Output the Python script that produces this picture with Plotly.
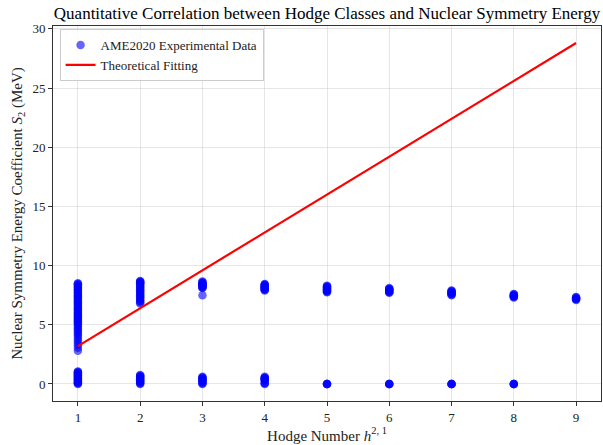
import plotly.graph_objects as go

# Experimental data: Hodge number -> S2 values (MeV)
h1_vals = [0.0, 0.05, 0.1, 0.15, 0.2, 0.3, 0.35, 0.4, 0.5, 0.55, 0.6, 0.7, 0.75, 0.8, 0.9, 0.95, 1.0, 1.05,
           2.8, 3.05, 3.3, 3.5, 3.7, 3.9, 4.1, 4.25, 4.4, 4.55, 4.7, 4.85, 5.0, 5.1, 5.2,
           5.3, 5.4, 5.5, 5.6, 5.7, 5.8, 5.9, 6.0, 6.1, 6.2, 6.3, 6.4, 6.5, 6.6, 6.7,
           6.8, 6.9, 7.0, 7.1, 7.2, 7.3, 7.4, 7.5, 7.6, 7.7, 7.8, 7.9, 8.0, 8.1, 8.2,
           8.3, 8.4, 8.45, 8.5]
h2_vals = [0.0, 0.05, 0.1, 0.2, 0.25, 0.3, 0.4, 0.45, 0.5, 0.6, 0.65, 0.7, 0.75,
           6.8, 6.9, 7.0, 7.1, 7.2, 7.3, 7.4, 7.5, 7.6, 7.7, 7.8, 7.9, 8.0, 8.1,
           8.2, 8.3, 8.4, 8.5, 8.55, 8.6, 8.65, 8.7]
h3_vals = [0.0, 0.05, 0.1, 0.2, 0.25, 0.3, 0.4, 0.45, 0.5, 0.55, 0.6,
           7.5, 8.1, 8.15, 8.2, 8.25, 8.3, 8.35, 8.4, 8.45, 8.5, 8.55, 8.6, 8.65]
h4_vals = [0.0, 0.05, 0.1, 0.3, 0.35, 0.4, 0.45, 0.5, 0.55, 0.6,
           7.9, 7.95, 8.0, 8.05, 8.1, 8.15, 8.2, 8.25, 8.3, 8.35, 8.4, 8.45]
h5_vals = [0.0, 0.0, 0.0, 0.0, 7.75, 7.8, 7.85, 7.9, 7.95, 8.0, 8.05, 8.1, 8.15, 8.2, 8.25, 8.3]
h6_vals = [0.0, 0.0, 0.0, 0.0, 7.7, 7.75, 7.8, 7.85, 7.9, 7.95, 8.0, 8.05, 8.1]
h7_vals = [0.0, 0.0, 0.0, 0.0, 7.5, 7.55, 7.6, 7.65, 7.7, 7.75, 7.8, 7.85, 7.9]
h8_vals = [0.0, 0.0, 0.0, 0.0, 7.3, 7.35, 7.4, 7.45, 7.5, 7.55, 7.6]
h9_vals = [7.1, 7.15, 7.2, 7.25, 7.3, 7.35]

hodge_groups = [h1_vals, h2_vals, h3_vals, h4_vals, h5_vals,
                h6_vals, h7_vals, h8_vals, h9_vals]

# Theoretical fit
fit_x = [1, 2, 3, 4, 5, 6, 7, 8, 9]
fit_slope = 3.2
fit_y = [fit_slope * v for v in fit_x]

xs, ys = [], []
for i, grp in enumerate(hodge_groups):
    for v in grp:
        xs.append(i + 1)
        ys.append(v)

FONT = "Liberation Serif, Times New Roman, serif"

fig = go.Figure()
fig.add_trace(go.Scatter(
    x=xs, y=ys, mode="markers", name="AME2020 Experimental Data",
    marker=dict(color="blue", size=8.5, opacity=0.6, line=dict(width=0)),
))
fig.add_trace(go.Scatter(
    x=fit_x, y=fit_y, mode="lines", name="Theoretical Fitting",
    line=dict(color="red", width=2.2),
))

fig.update_layout(
    width=603, height=445,
    margin=dict(l=53, r=2, t=26, b=44),
    paper_bgcolor="white", plot_bgcolor="white",
    font=dict(family=FONT, color="#222", size=13),
    title=dict(text="Quantitative Correlation between Hodge Classes and Nuclear Symmetry Energy",
               x=0.5, xref="paper", xanchor="center", y=0.985, yref="container", yanchor="top",
               font=dict(size=17, family=FONT, color="black")),
    showlegend=True,
    legend=dict(x=0.012, y=0.992, xanchor="left", yanchor="top",
                bgcolor="rgba(255,255,255,0.8)", bordercolor="#cccccc", borderwidth=1,
                font=dict(size=13, family=FONT, color="#222"),
                itemwidth=30, tracegroupgap=0),
)
fig.update_xaxes(
    range=[0.6, 9.4], tickmode="array", tickvals=fit_x, ticktext=[str(v) for v in fit_x],
    showgrid=True, gridcolor="rgba(200,200,200,0.45)", gridwidth=1,
    showline=True, linecolor="#333", linewidth=1, mirror=True,
    ticks="outside", ticklen=4, tickcolor="#333", zeroline=False,
    tickfont=dict(size=13, family=FONT, color="#222"),
    title=dict(text="Hodge Number <i>h</i><sup>2, 1</sup>", font=dict(size=15, family=FONT, color="#222"), standoff=6),
)
fig.update_yaxes(
    range=[-1.44, 30.24], tickmode="array", tickvals=[0, 5, 10, 15, 20, 25, 30],
    showgrid=True, gridcolor="rgba(200,200,200,0.45)", gridwidth=1,
    showline=True, linecolor="#333", linewidth=1, mirror=True,
    ticks="outside", ticklen=4, tickcolor="#333", zeroline=False,
    tickfont=dict(size=13, family=FONT, color="#222"),
    title=dict(text="Nuclear Symmetry Energy Coefficient <i>S</i><sub>2</sub> (MeV)",
               font=dict(size=15, family=FONT, color="#222"), standoff=6),
)

fig.write_html("out.html")
